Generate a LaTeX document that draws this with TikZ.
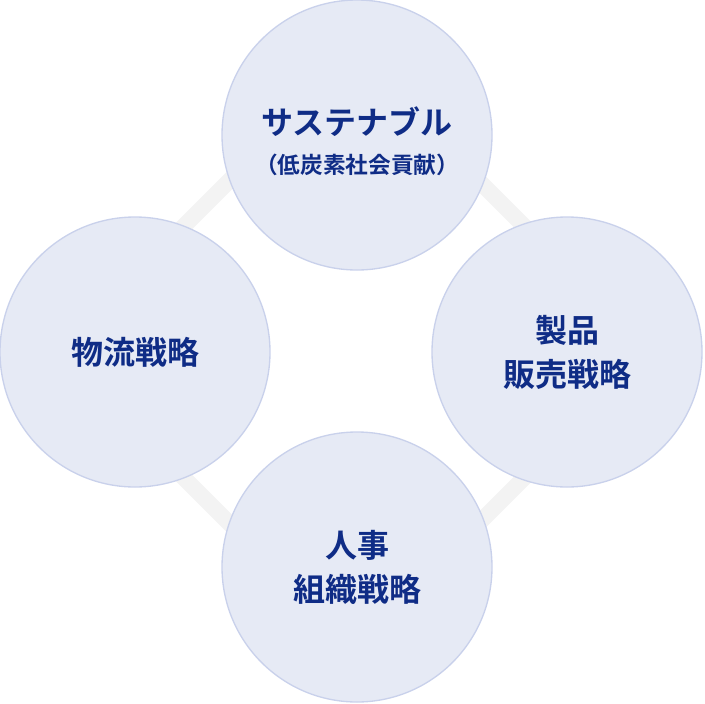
\documentclass[tikz,border=0pt]{standalone}
\usepackage{fontspec}
\newfontfamily\jpfont{Noto Sans CJK JP}[BoldFont={Noto Sans CJK JP Bold}]
\usetikzlibrary{backgrounds}
\definecolor{circfill}{HTML}{E6EAF5}
\definecolor{circline}{HTML}{C9D1EB}
\definecolor{bandgray}{HTML}{F3F3F3}
\definecolor{textnavy}{HTML}{0F2C86}
\tikzset{every picture/.style={line width=0.75pt}}
\tikzset{
  circ/.style={circle, fill=circfill, draw=circline, line width=1pt,
    minimum size=202.5pt, inner sep=0pt, align=center, text=textnavy,
    font=\jpfont\bfseries\fontsize{24}{33}\selectfont},
  circtext/.style={inner sep=0pt, align=center, text=textnavy,
    font=\jpfont\bfseries\fontsize{24}{33}\selectfont},
  band/.style={draw=bandgray, line width=12pt}
}

\begin{document}
\begin{tikzpicture}[x=0.75pt,y=0.75pt,yscale=-1,xscale=1]
\useasboundingbox (0,0) rectangle (704,704);

\node [circ] (top) at (357,135) {};
\node [circtext] (toptext) at (357,141) {サステナブル\\[-4pt]{\fontsize{17}{26}\selectfont （低炭素社会貢献）}};
\node [circ] (right) at (567,352) {製品\\販売戦略};
\node [circ] (bottom) at (357,567) {人事\\組織戦略};
\node [circ] (left) at (135,352) {物流戦略};

\coordinate (bandtop) at (354,56);
\coordinate (bandright) at (650,352);
\coordinate (bandbottom) at (354,648);
\coordinate (bandleft) at (58,352);

\begin{scope}[on background layer]
\draw [band] (bandtop) -- (bandright) -- (bandbottom) -- (bandleft) -- cycle ;
\end{scope}

\end{tikzpicture}
\end{document}
